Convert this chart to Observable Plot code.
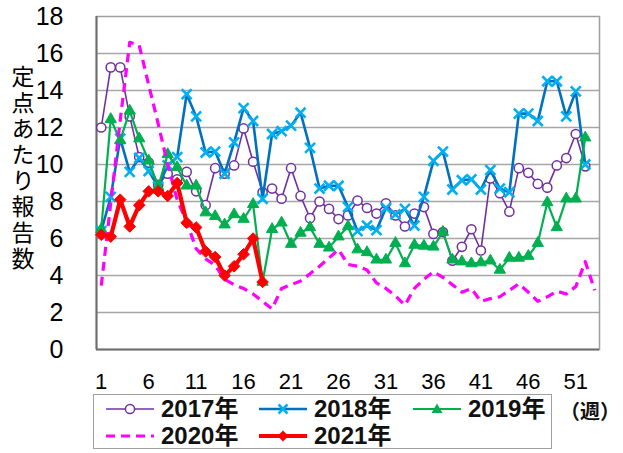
<!DOCTYPE html>
<html><head><meta charset="utf-8">
<script src="https://cdn.jsdelivr.net/npm/d3@7"></script>
<script src="https://cdn.jsdelivr.net/npm/@observablehq/plot@0.6"></script>
<style>
body{margin:0;background:#fff;font-family:"Liberation Sans","Noto Sans CJK JP",sans-serif;}
#wrap{position:relative;width:623px;height:453px;overflow:hidden;background:#fff;}
#chart{position:absolute;left:0;top:0;}
#chart g[aria-label^="x-axis"] text{font-size:22px;}
#chart g[aria-label^="y-axis"] text{font-size:25px;}
#ytitle{position:absolute;left:11px;top:65px;writing-mode:vertical-rl;text-orientation:upright;font-family:"Noto Sans CJK JP",sans-serif;font-size:23px;letter-spacing:3px;line-height:1;color:#000;}
#legend{position:absolute;left:93px;top:394px;width:459px;height:55px;border:1px solid #a0a0a0;box-sizing:border-box;background:#fff;}
.item{position:absolute;display:flex;align-items:center;height:26px;font-weight:bold;font-size:24px;line-height:1;color:#111;}
.item svg{margin-right:7px;}
#unit{position:absolute;left:560px;top:401px;font-size:20px;line-height:1;font-family:"Noto Sans CJK JP",sans-serif;font-weight:bold;color:#111;white-space:nowrap;}
</style></head>
<body>
<div id="wrap">
  <div id="chart"></div>
  <div id="ytitle">定点あたり報告数</div>
  <div id="legend"></div>
  <div id="unit">（週）</div>
</div>
<script>
// ---- data ----
const weekTicks = [1, 6, 11, 16, 21, 26, 31, 36, 41, 46, 51];
const yTicks = [0, 2, 4, 6, 8, 10, 12, 14, 16, 18];
const seriesNames = ["2017年", "2018年", "2019年", "2020年", "2021年"];

const y2017 = [12.0, 15.25, 15.25, 12.6, 10.4, 10.1, 8.9, 9.5, 9.2, 9.6,
  8.55, 7.8, 9.8, 9.5, 9.95, 11.95, 10.15, 8.5, 8.7, 8.15,
  9.8, 8.3, 7.1, 8.0, 7.6, 7.05, 7.25, 8.05, 7.65, 7.35,
  7.9, 7.25, 6.65, 7.35, 7.7, 6.25, 6.35, 4.8, 5.55, 6.5,
  5.35, 9.25, 8.45, 7.45, 9.8, 9.55, 8.95, 8.75, 9.95, 10.35,
  11.65, 9.9];
const y2018 = [6.4, 8.25, 11.4, 9.6, 10.35, 9.65, 8.8, 9.95, 10.4, 13.8,
  12.6, 10.65, 10.7, 9.5, 11.2, 13.05, 12.35, 8.15, 11.65, 11.8,
  12.1, 12.8, 10.9, 8.7, 8.85, 8.85, 7.7, 6.4, 6.7, 6.45,
  7.65, 7.3, 7.6, 6.7, 8.25, 10.2, 10.7, 8.65, 9.15, 9.2,
  8.65, 9.7, 8.7, 8.5, 12.75, 12.75, 12.35, 14.5, 14.5, 12.6,
  13.95, 10.0];
const y2019 = [6.5, 12.45, 11.3, 12.9, 11.4, 10.2, 8.8, 10.55, 9.85, 8.85,
  8.85, 7.4, 7.2, 6.75, 7.3, 7.05, 7.85, 3.65, 6.5, 6.85,
  5.7, 6.3, 6.6, 5.7, 5.5, 6.1, 6.65, 5.4, 5.25, 4.85,
  4.85, 5.75, 4.65, 5.65, 5.6, 5.55, 6.35, 4.85, 4.75, 4.65,
  4.7, 4.8, 4.3, 4.95, 4.95, 5.05, 5.75, 7.95, 6.6, 8.15,
  8.15, 11.45];
const y2020 = [3.45, 7.9, 12.4, 16.6, 16.45, 14.3, 12.2, 10.0, 8.1, 6.9,
  5.45, 4.9, 4.55, 3.8, 3.5, 3.3, 3.0, 2.6, 2.2, 3.3,
  3.5, 3.7, 4.1, 4.5, 4.95, 5.4, 4.6, 4.5, 4.3, 3.6,
  3.3, 2.9, 2.4, 3.3, 3.8, 4.2, 3.9, 3.5, 3.1, 3.3,
  2.6, 2.75, 2.85, 3.2, 3.55, 3.1, 2.6, 2.85, 3.15, 3.0,
  3.4, 4.75, 3.2];
const y2021 = [6.2, 6.1, 8.1, 6.65, 7.8, 8.55, 8.55, 8.3, 9.0, 6.85,
  6.6, 5.3, 5.0, 4.0, 4.5, 5.15, 6.0, 3.65];

// ---- styles ----
const styles = [
  {line: "#7030A0", lw: 1.6, symbol: "circle", r: 4.6, fill: "#fff", mstroke: "#7030A0", msw: 1.5},
  {line: "#0070C0", lw: 2.6, symbol: "times", r: 4.6, fill: "none", mstroke: "#00B0F0", msw: 2.6},
  {line: "#00B050", lw: 2.2, symbol: "triangle", r: 4.2, fill: "#00B050", mstroke: "#00B050", msw: 1},
  {line: "#FF00FF", lw: 3.2, dash: "9,6", symbol: null},
  {line: "#FF0000", lw: 4.2, symbol: "diamond2", r: 5.2, fill: "#FF0000", mstroke: "#FF0000", msw: 1}
];
const allValues = [y2017, y2018, y2019, y2020, y2021];
const rows = allValues.map(vals => vals.map((v, i) => ({week: i + 1, value: v})));

const marks = [
  Plot.ruleY(yTicks.filter(d => d > 0 && d < 18), {y: d => d, stroke: "#a6a6a6", strokeWidth: 1.5}),
  Plot.frame({stroke: "#a0a0a0", strokeWidth: 1.5}),
  Plot.ruleX([0.5], {x: d => d, stroke: "#6e6e6e", strokeWidth: 2}),
  Plot.ruleY([0], {y: d => d, stroke: "#6e6e6e", strokeWidth: 2})
];
rows.forEach((data, k) => {
  const s = styles[k];
  marks.push(Plot.line(data, {x: "week", y: "value", stroke: s.line, strokeWidth: s.lw,
    strokeDasharray: s.dash, strokeLinejoin: "round", strokeLinecap: s.dash ? "butt" : "round"}));
  if (s.symbol) {
    marks.push(Plot.dot(data, {x: "week", y: "value", symbol: () => s.symbol, r: s.r,
      fill: s.fill, stroke: s.mstroke, strokeWidth: s.msw}));
  }
});

const chart = Plot.plot({
  width: 623, height: 400,
  marginLeft: 96, marginRight: 24, marginTop: 16, marginBottom: 51,
  style: {fontFamily: "'Liberation Sans', Arial, sans-serif", fontSize: "22px", color: "#000", background: "#fff", overflow: "visible"},
  x: {domain: [0.5, 53.5], ticks: weekTicks, tickFormat: d => String(d), tickSize: 0, tickPadding: 24, label: null},
  y: {domain: [0, 18], ticks: yTicks, tickFormat: d => String(d), tickSize: 0, tickPadding: 33, label: null},
  symbol: {type: "identity"},
  marks
});
document.getElementById("chart").appendChild(chart);

// ---- legend ----
function sampleSvg(s) {
  const w = 48, h = 20, cy = 10;
  let m = "";
  if (s.symbol === "circle") m = `<circle cx="24" cy="${cy}" r="4.6" fill="#fff" stroke="${s.mstroke}" stroke-width="1.5"/>`;
  else if (s.symbol === "times") m = `<path d="M19.5 5.5L28.5 14.5M28.5 5.5L19.5 14.5" stroke="${s.mstroke}" stroke-width="2.6"/>`;
  else if (s.symbol === "triangle") m = `<path d="M24 4.5L29.5 14L18.5 14Z" fill="${s.fill}"/>`;
  else if (s.symbol === "diamond2") m = `<path d="M24 4.5L29.5 10L24 15.5L18.5 10Z" fill="${s.fill}"/>`;
  const dash = s.dash ? `stroke-dasharray="${s.dash}"` : "";
  return `<svg width="${w}" height="${h}"><line x1="0" x2="${w}" y1="${cy}" y2="${cy}" stroke="${s.line}" stroke-width="${s.lw}" ${dash}/>${m}</svg>`;
}
const legendPos = [[12, 1], [165, 1], [319, 1], [12, 28], [165, 28]];
const legend = document.getElementById("legend");
seriesNames.forEach((name, k) => {
  const d = document.createElement("div");
  d.className = "item";
  d.style.left = legendPos[k][0] + "px";
  d.style.top = legendPos[k][1] + "px";
  d.innerHTML = sampleSvg(styles[k]) + `<span>${name}</span>`;
  legend.appendChild(d);
});
</script>
</body></html>
